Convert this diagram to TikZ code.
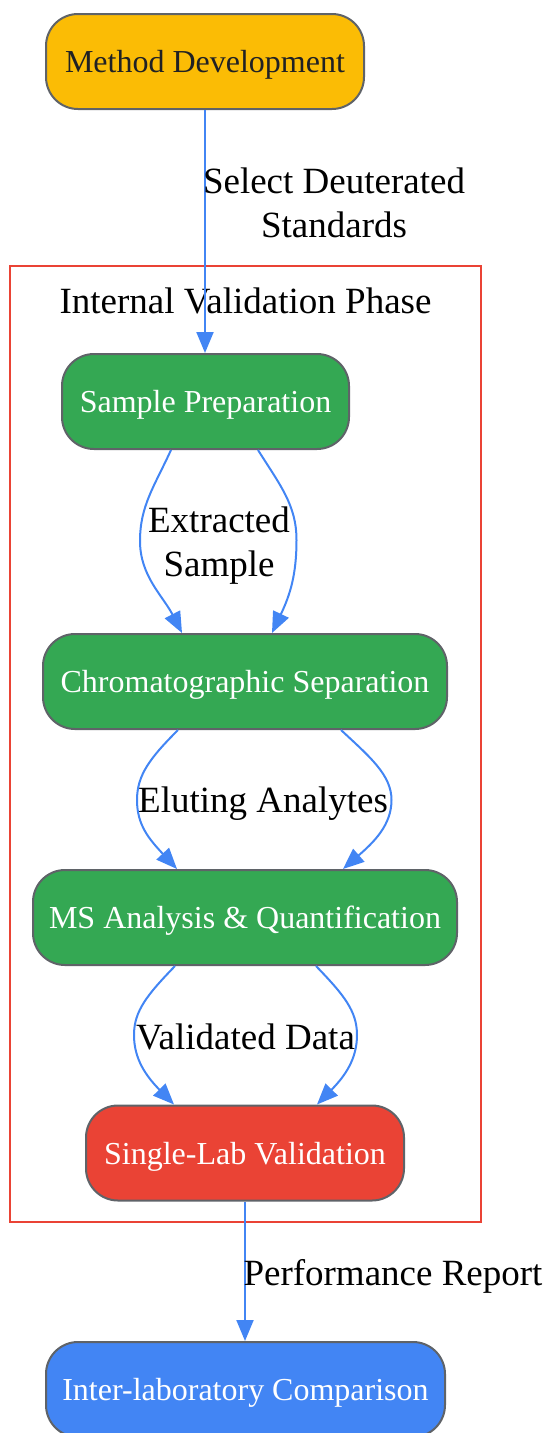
\documentclass[tikz,border=0pt]{standalone}
\usepackage{fontspec}
\setmainfont{Liberation Serif}
\usetikzlibrary{arrows.meta}
\definecolor{gyellow}{HTML}{FBBC05}
\definecolor{ggreen}{HTML}{34A853}
\definecolor{gred}{HTML}{EA4335}
\definecolor{gblue}{HTML}{4285F4}
\definecolor{bordergray}{HTML}{5F6368}
\definecolor{darktext}{HTML}{202124}
\tikzset{
  box/.style={draw=bordergray, line width=2pt, rounded corners=32pt,
    minimum height=95pt, inner xsep=0pt, inner ysep=0pt, text depth=0pt,
    font=\fontsize{32}{38}\selectfont, text=white},
  edge/.style={draw=gblue, line width=2pt, -{Triangle[length=21pt,width=17pt]}},
  elabel/.style={font=\fontsize{37}{44}\selectfont, text=black, align=center, inner sep=0pt},
  clusterbox/.style={draw=gred, line width=2pt, inner sep=0pt}
}
\begin{document}
\begin{tikzpicture}[x=1pt,y=-1pt]
\useasboundingbox (0,0) rectangle (548,1433);
% cluster
\node[clusterbox, minimum width=471pt, minimum height=956pt] (phase) at (245.5,744) {};
\node[elabel] (phasetitle) at (245.5,301) {Internal Validation Phase};
% nodes
\node[box, fill=gyellow, text=darktext, minimum width=318pt] (md) at (205,61.5) {Method Development};
\node[box, fill=ggreen, minimum width=287pt] (sp) at (205.5,401.5) {Sample Preparation};
\node[box, fill=ggreen, minimum width=404pt] (cs) at (245,681.5) {Chromatographic Separation};
\node[box, fill=ggreen, minimum width=424pt] (ms) at (245,917.5) {MS Analysis \& Quantification};
\node[box, fill=gred, minimum width=318pt] (sl) at (245,1153) {Single-Lab Validation};
\node[box, fill=gblue, minimum width=399pt] (il) at (245.5,1389.5) {Inter-laboratory Comparison};
% edges
\draw[edge] (md.south) -- (md.south |- sp.north);
\draw[edge] ([xshift=-34.5pt]sp.south) .. controls (154,487) and (140,506) .. (140,541)
  .. controls (140,576) and (163,596) .. ([xshift=-63pt]cs.north);
\draw[edge] ([xshift=52.5pt]sp.south) .. controls (280,485) and (296.5,505) .. (296.5,540)
  .. controls (296.5,575) and (290,595) .. ([xshift=27pt]cs.north);
\draw[edge] ([xshift=-67pt]cs.south) .. controls (150,758) and (137,775) .. (137,800)
  .. controls (137,825) and (149,839) .. ([xshift=-68pt]ms.north);
\draw[edge] ([xshift=96pt]cs.south) .. controls (370,757) and (391.5,775) .. (391.5,800)
  .. controls (391.5,825) and (374,842) .. ([xshift=98pt]ms.north);
\draw[edge] ([xshift=-70pt]ms.south) .. controls (147,995) and (134,1011) .. (134,1035)
  .. controls (134,1059) and (146,1076) .. ([xshift=-71pt]sl.north);
\draw[edge] ([xshift=71pt]ms.south) .. controls (344,995) and (357,1011) .. (357,1035)
  .. controls (357,1059) and (345,1076) .. ([xshift=72pt]sl.north);
\draw[edge] (sl.south) -- (sl.south |- il.north);
% edge labels
\node[elabel] (l1) at (334,203) {Select Deuterated\\Standards};
\node[elabel] (l2) at (219,546) {Extracted\\Sample};
\node[elabel] (l3) at (263,804) {Eluting Analytes};
\node[elabel] (l4) at (245.5,1037) {Validated Data};
\node[elabel] (l5) at (393,1276) {Performance Report};
\end{tikzpicture}
\end{document}
